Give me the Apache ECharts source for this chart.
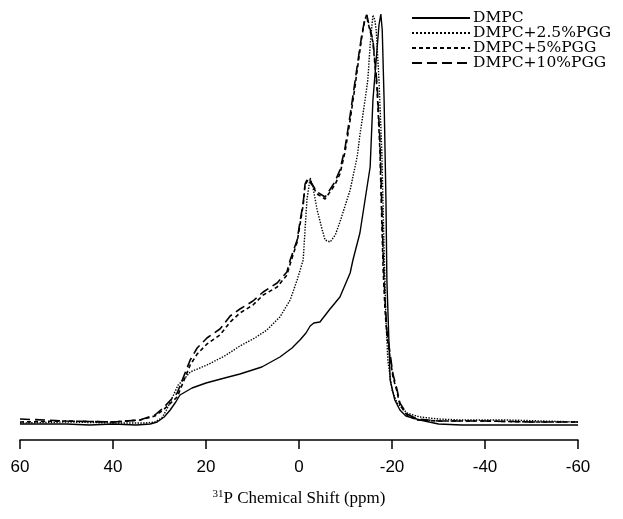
<!DOCTYPE html>
<html>
<head>
<meta charset="utf-8">
<script src="https://cdn.jsdelivr.net/npm/echarts@6/dist/echarts.min.js"></script>
<style>html,body{margin:0;padding:0;background:#fff;}#c{width:623px;height:519px;}</style>
</head>
<body>
<div id="c"></div>
<script>
// Chemical shift (ppm) and intensity (arbitrary units) per sample
var seriesNames = ['DMPC', 'DMPC+2.5%PGG', 'DMPC+5%PGG', 'DMPC+10%PGG'];
var xTicks = [60, 40, 20, 0, -20, -40, -60];

var dmpcShift = [60,50,45,40,35,32,30.5,29,27.7,26.5,25.6,23,20,16,12.7,8,4.1,1.5,-0.2,-1.5,-2.4,-3.2,-4.5,-6.5,-8.8,-11,-11.6,-13.1,-14.2,-15.3,-15.9,-16.6,-17.2,-17.6,-17.9,-18.3,-18.7,-18.9,-19.4,-19.6,-20.6,-21.7,-23,-26,-30,-35,-45,-55,-60];
var dmpcInt   = [16,16,15,16,15,16,18,23,30,38,45,52,57,62,66,73,83,92,100,107,114,117,118,130,143,167,180,207,240,273,340,380,415,426,410,340,240,160,90,60,40,30,24,20,16,15,15,15,15];

var pgg25Shift = [60,50,40,33,31,29.5,28.5,27.5,26,24.5,23.4,19.8,16,12.7,9.5,6.9,4.1,1.9,0.4,-0.9,-1.7,-2.4,-2.9,-3.9,-5,-5.6,-6.7,-7.8,-8.8,-11,-12.5,-13.1,-14.2,-14.8,-15.3,-15.7,-15.9,-16.3,-16.6,-17.2,-17.8,-18.3,-18.7,-19.1,-20,-21.1,-23.2,-26,-30,-35,-45,-60];
var pgg25Int   = [17,18,17,17,18,22,30,40,55,62,68,75,84,94,102,110,123,140,160,180,240,262,255,230,210,200,198,205,218,250,283,305,340,360,395,415,425,420,410,360,290,190,120,80,50,37,27,23,21,20,20,18];

var pgg5Shift = [60,50,40,34.2,31,29.2,26.2,23.4,21.9,19.8,17,14.8,12.7,9.9,7.7,4.7,2.6,1.9,0.4,-0.2,-0.9,-1.3,-1.9,-2.4,-3.9,-5.6,-6.2,-7.7,-8.8,-9.9,-11,-12,-12.7,-13.5,-14.2,-14.6,-14.8,-15.9,-16.8,-17.4,-17.8,-18.1,-18.5,-18.9,-19.6,-20.2,-21.1,-21.7,-23.2,-25.4,-30,-40,-50,-60];
var pgg5Int   = [18,19,18,20,24,30,43,75,86,96,105,118,127,135,145,153,165,176,198,215,235,255,260,258,246,241,245,255,266,288,320,352,376,403,421,425,418,398,350,290,220,170,130,105,82,63,48,35,25,20,19,19,18,18];

var pgg10Shift = [60,50,40,34.2,31,29.2,26.2,23.4,21.9,19.8,17,14.8,12.7,9.9,7.7,4.7,2.6,1.9,0.4,-0.2,-0.9,-1.3,-1.9,-2.4,-3.9,-5.6,-6.2,-7.7,-8.8,-9.9,-11,-12,-12.7,-13.5,-14.2,-14.6,-14.8,-15.9,-16.8,-17.4,-17.8,-18.1,-18.5,-18.9,-19.6,-20.2,-21.1,-21.7,-23.2,-25.4,-30,-40,-50,-60];
var pgg10Int   = [21,19,18,20,25,32,47,80,92,102,111,124,131,139,148,157,168,180,200,218,237,256,262,259,248,243,247,258,270,292,325,357,380,405,422,425,420,400,355,300,235,185,140,110,86,66,50,37,26,21,19,19,18,18];

function zip(xs, ys) { return xs.map(function (x, i) { return [x, ys[i]]; }); }

var styles = [
  { type: 'solid', width: 1.4 },
  { type: 'dotted', width: 1.4 },
  { type: [4, 3], width: 1.6 },
  { type: [10, 5], width: 1.6 }
];
var datas = [zip(dmpcShift, dmpcInt), zip(pgg25Shift, pgg25Int), zip(pgg5Shift, pgg5Int), zip(pgg10Shift, pgg10Int)];

var chart = echarts.init(document.getElementById('c'), null, { renderer: 'canvas' });
chart.setOption({
  animation: false,
  backgroundColor: '#fff',
  grid: { left: 20, right: 45, top: 10, bottom: 79 },
  legend: {
    orient: 'vertical',
    left: 411, top: 10,
    padding: 0,
    itemWidth: 58, itemHeight: 12, itemGap: -1,
    itemStyle: { opacity: 0 },
    textStyle: { fontFamily: 'DejaVu Serif', fontSize: 15.5, lineHeight: 12, color: '#000', padding: [0, 0, 0, -2] },
    data: seriesNames
  },
  xAxis: {
    type: 'value', min: -60, max: 60, interval: 20, inverse: true,
    axisLine: { lineStyle: { color: '#000', width: 1.5 } },
    axisTick: { length: 9, lineStyle: { color: '#000', width: 1.5 } },
    splitLine: { show: false },
    axisLabel: { color: '#000', fontFamily: 'Liberation Sans', fontSize: 17, margin: 19 },
    name: '{sup|31}{n|P Chemical Shift (ppm)}',
    nameLocation: 'middle', nameGap: 49,
    nameTextStyle: {
      rich: {
        sup: { fontFamily: 'Liberation Serif', fontSize: 11, color: '#000', verticalAlign: 'top', padding: [0, 0, 9, 0] },
        n: { fontFamily: 'Liberation Serif', fontSize: 17, color: '#000' }
      }
    }
  },
  yAxis: { type: 'value', min: 0, max: 430, show: false },
  series: seriesNames.map(function (n, i) {
    return {
      name: n, type: 'line', data: datas[i], showSymbol: false, symbol: 'none',
      lineStyle: { color: '#000', type: styles[i].type, width: styles[i].width },
      itemStyle: { color: '#000' }
    };
  })
});
</script>
</body>
</html>
